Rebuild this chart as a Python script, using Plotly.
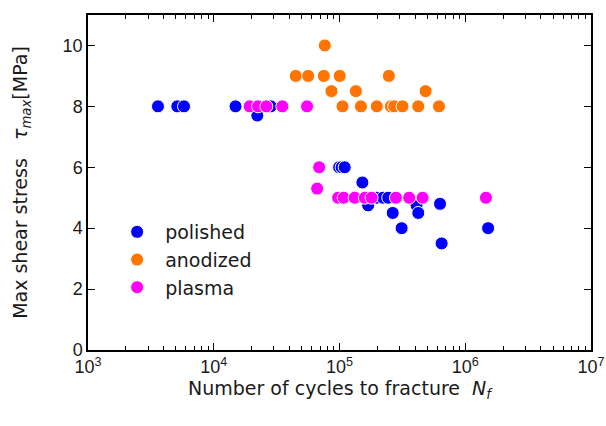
import plotly.graph_objects as go

polished_x = [3600, 5130, 5800, 14900, 22200, 28400, 99300, 104000, 110000, 152000, 169000,
              197000, 222000, 244000, 265000, 312000, 410000, 423000, 630000, 649000, 1520000]
polished_y = [8, 8, 8, 8, 7.7, 8, 6, 6, 6, 5.5, 4.75,
              5, 5, 5, 4.5, 4.0, 4.75, 4.5, 4.8, 3.5, 4.0]

anodized_x = [76400, 44900, 56300, 75000, 100400, 247000, 86300, 135000, 484000,
              105700, 148000, 198000, 256000, 272000, 317000, 423000, 618000]
anodized_y = [10, 9, 9, 9, 9, 9, 8.5, 8.5, 8.5,
              8, 8, 8, 8, 8, 8, 8, 8]

plasma_x = [19300, 22500, 26200, 35100, 55200, 68900, 66400, 97500, 108000, 132000,
            159000, 180000, 281000, 358000, 458000, 1460000]
plasma_y = [8, 8, 8, 8, 8, 6, 5.3, 5, 5, 5,
            5, 5, 5, 5, 5, 5]

x_major = [1e3, 1e4, 1e5, 1e6, 1e7]
x_major_text = ["10<sup>3</sup>", "10<sup>4</sup>", "10<sup>5</sup>", "10<sup>6</sup>", "10<sup>7</sup>"]
x_minor = [m * 10 ** e for e in range(3, 7) for m in range(2, 10)]
y_ticks = [0, 2, 4, 6, 8, 10]

series = [
    ("polished", polished_x, polished_y, "#0000FF"),
    ("anodized", anodized_x, anodized_y, "#FF7300"),
    ("plasma", plasma_x, plasma_y, "#FF00FF"),
]

fig = go.Figure()
for name, xs, ys, col in series:
    fig.add_trace(go.Scatter(
        x=xs, y=ys, mode="markers", name=name,
        marker=dict(size=13, color=col, line=dict(color="white", width=1)),
    ))

title_font = dict(family="DejaVu Sans", size=19, color="#1a1a1a")
tick_font = dict(family="Liberation Sans, Arial", size=18, color="#1a1a1a")

fig.update_layout(
    width=606, height=426,
    margin=dict(l=88, r=15, t=15, b=76),
    paper_bgcolor="white", plot_bgcolor="white",
    showlegend=True,
    legend=dict(
        x=0.042, y=0.409, xanchor="left", yanchor="top",
        font=dict(family="DejaVu Sans", size=19, color="#1a1a1a"),
        bgcolor="rgba(0,0,0,0)", borderwidth=0,
        tracegroupgap=0, itemwidth=46,
    ),
    xaxis=dict(
        type="log", range=[3, 7], automargin=False,
        tickmode="array", tickvals=x_major, ticktext=x_major_text,
        ticks="inside", ticklen=7, tickwidth=1, tickcolor="black",
        minor=dict(tickmode="array", tickvals=x_minor, ticks="inside", ticklen=4,
                   tickwidth=1, tickcolor="black", showgrid=False),
        showline=True, linecolor="black", linewidth=1.5, mirror="ticks",
        showgrid=False, zeroline=False,
        tickfont=tick_font,
        title=dict(text="Number of cycles to fracture  <i>N<sub>f</sub></i>",
                   font=title_font, standoff=0),
    ),
    yaxis=dict(
        range=[0, 11], automargin=False,
        tickmode="array", tickvals=y_ticks,
        ticks="inside", ticklen=7, tickwidth=1, tickcolor="black",
        showline=True, linecolor="black", linewidth=1.5, mirror="ticks",
        showgrid=False, zeroline=False,
        tickfont=tick_font,
        title=dict(text="Max shear stress   <i>τ<sub>max</sub></i>[MPa]",
                   font=title_font, standoff=30),
    ),
)

fig.write_html("out.html")
